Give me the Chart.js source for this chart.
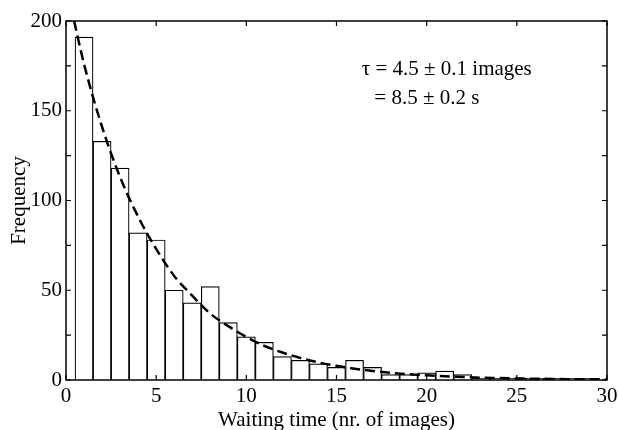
<!DOCTYPE html>
<html lang="en">
<head>
    <meta charset="UTF-8">
    <title>Waiting time histogram</title>
    <script src="https://cdn.jsdelivr.net/npm/chart.js"></script>
    <style>
        body { margin: 0; background: white; }
        .contenedor { width: 618px; height: 430px; }
    </style>
</head>
<body>
    <div class="contenedor">
        <canvas id="grafico"></canvas>
    </div>

    <script>
        // histogram bins (centre of each bin, width 1 image)
        const binCentres = [1, 2, 3, 4, 5, 6, 7, 8, 9, 10, 11, 12, 13, 14, 15,
                            16, 17, 18, 19, 20, 21, 22, 23, 24, 25, 26, 27, 28, 29, 30];
        const frequency = [191, 133, 118, 82, 78, 50, 43, 52, 32, 24, 21, 13, 11, 9, 7,
                           11, 7, 3, 3, 4, 5, 3, 1, 1, 1, 1, 1, 1, 1, 0];

        // exponential fit
        const fitX = [0.45, 1, 2, 3, 4, 5, 6, 7, 8, 9, 10, 11, 12, 13, 14, 15,
                      16, 17, 18, 19, 20, 21, 22, 23, 24, 25, 26, 27, 28, 29, 30];
        const fitY = [200, 176, 141, 113, 91, 73, 58, 47, 37, 30, 24, 19, 15.3, 12.3, 9.8, 7.9,
                      6.3, 5.0, 4.0, 3.2, 2.6, 2.1, 1.7, 1.3, 1.1, 0.9, 0.7, 0.6, 0.4, 0.4, 0.3];

        const fitText = ['\u03C4 = 4.5 \u00B1 0.1 images', '= 8.5 \u00B1 0.2 s'];

        const fuente = { family: '"Liberation Serif", "Times New Roman", serif', size: 21 };

        // box around the plot plus inward ticks on all four sides
        const marco = {
            id: 'marco',
            afterDatasetsDraw(chart) {
                const { ctx, chartArea: a, scales } = chart;
                ctx.save();
                ctx.strokeStyle = '#000';
                ctx.lineWidth = 1.5;
                ctx.strokeRect(a.left, a.top, a.right - a.left, a.bottom - a.top);
                ctx.lineWidth = 1.2;
                ctx.beginPath();
                scales.x.ticks.forEach(t => {
                    const px = scales.x.getPixelForValue(t.value);
                    ctx.moveTo(px, a.bottom); ctx.lineTo(px, a.bottom - 5);
                    ctx.moveTo(px, a.top); ctx.lineTo(px, a.top + 5);
                });
                scales.y.ticks.forEach(t => {
                    const py = scales.y.getPixelForValue(t.value);
                    ctx.moveTo(a.left, py); ctx.lineTo(a.left + 5, py);
                    ctx.moveTo(a.right, py); ctx.lineTo(a.right - 5, py);
                });
                ctx.stroke();

                ctx.fillStyle = '#000';
                ctx.font = fuente.size + 'px ' + fuente.family;
                ctx.textBaseline = 'alphabetic';
                ctx.fillText(fitText[0], scales.x.getPixelForValue(16.4), scales.y.getPixelForValue(170));
                ctx.fillText(fitText[1], scales.x.getPixelForValue(17.1), scales.y.getPixelForValue(154));
                ctx.restore();
            }
        };

        let ctx = document.getElementById('grafico').getContext('2d');

        let chart = new Chart(ctx, {
            data: {
                datasets: [
                    {
                        type: 'line',
                        label: 'Fit',
                        data: fitX.map((x, i) => ({ x: x, y: fitY[i] })),
                        borderColor: '#000',
                        borderWidth: 2.5,
                        borderDash: [10, 5],
                        pointRadius: 0,
                        cubicInterpolationMode: 'monotone',
                        fill: false,
                        order: 1
                    },
                    {
                        type: 'bar',
                        label: 'Frequency',
                        data: binCentres.map((x, i) => ({ x: x, y: frequency[i] })),
                        backgroundColor: '#fff',
                        borderColor: '#000',
                        borderWidth: 1.2,
                        barPercentage: 1.0,
                        categoryPercentage: 1.0,
                        order: 2
                    }
                ]
            },
            options: {
                responsive: true,
                maintainAspectRatio: false,
                animation: false,
                layout: { padding: { left: 0, right: 11, top: 21, bottom: 0 } },
                plugins: { legend: { display: false }, tooltip: { enabled: false } },
                scales: {
                    x: {
                        type: 'linear',
                        min: 0,
                        max: 30,
                        offset: false,
                        grid: { display: false, drawTicks: false },
                        border: { display: false },
                        ticks: { stepSize: 5, color: '#000', font: fuente, padding: 4, maxRotation: 0 },
                        title: { display: true, text: 'Waiting time (nr. of images)', color: '#000', font: fuente, padding: { top: 0, bottom: -3 } },
                        afterFit(scale) {
                            scale.height = 50;
                            scale.paddingLeft = 0;
                            scale.paddingRight = 0;
                        }
                    },
                    y: {
                        min: 0,
                        max: 200,
                        grid: { display: false, drawTicks: false },
                        border: { display: false },
                        ticks: {
                            stepSize: 25,
                            color: '#000',
                            font: fuente,
                            padding: 4,
                            callback: v => (v % 50 === 0 ? v : '')
                        },
                        title: { display: true, text: 'Frequency', color: '#000', font: fuente, padding: { top: 7, bottom: 0 } },
                        afterFit(scale) {
                            scale.width = 66;
                            scale.paddingTop = 0;
                            scale.paddingBottom = 0;
                        }
                    }
                }
            },
            plugins: [marco]
        });
    </script>
</body>
</html>
